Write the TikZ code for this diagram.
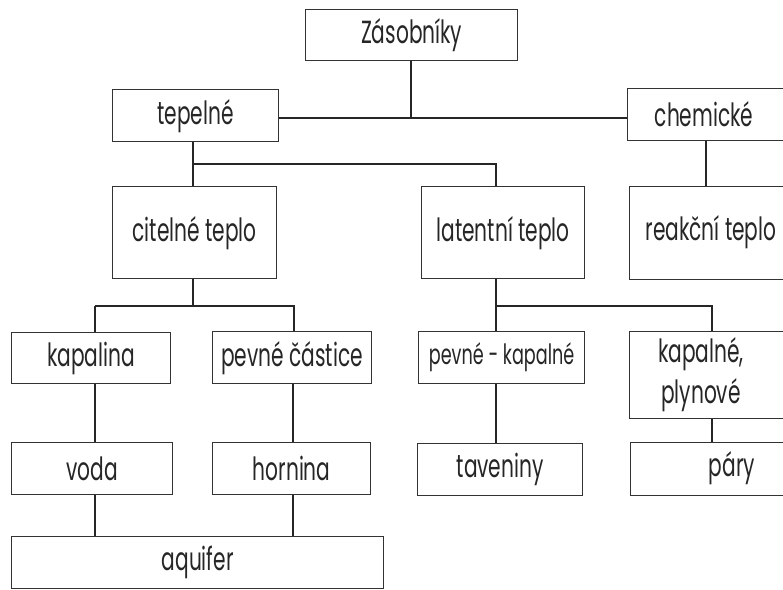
\documentclass[tikz,border=0pt]{standalone}
\usepackage{fontspec}
\setmainfont{Poppins}[FakeStretch=0.63]
\begin{document}
\begin{tikzpicture}[x=1pt,y=-1pt,
  box/.style={draw=black!80,line width=1.3pt,fill=white,inner sep=0pt,anchor=north west},
  txt/.style={font=\fontsize{32}{32}\selectfont,text=black!85,inner sep=0pt,align=center},
  small/.style={font=\fontsize{28}{28}\selectfont},
  link/.style={draw=black!85,line width=2pt}]
\useasboundingbox (0,0) rectangle (783,589);
\clip (0,0) rectangle (783,589);
\newcommand{\bx}[7][]{\node[box,minimum width=#5-#3,minimum height=#6-#4] (#2) at (#3,#4) {};
  \node[txt,#1] (#2t) at (#2.center) {#7};}
\newcommand{\bxr}[7]{\node[box,minimum width=#4-#2,minimum height=#5-#3] (#1) at (#2,#3) {};
  \node[txt] (#1t) at (#6,{(#3+#5)/2}) {#7};}
\coordinate (jA) at (411,118);
\coordinate (jB) at (193,164);
\coordinate (jB2) at (496,164);
\coordinate (jC) at (95,306);
\coordinate (jC2) at (294,306);
\coordinate (jD) at (496,306);
\coordinate (jD2) at (712,306);
\bx{Z}{305}{9}{517}{60}{Zásobníky}
\bx{tep}{112}{89}{278}{141}{tepelné}
\bxr{chem}{627}{88}{800}{140}{704}{chemické}
\bx{cit}{112}{186}{276}{278}{citelné teplo}
\bx{lat}{421}{186}{584}{278}{latentní teplo}
\bxr{rea}{629}{186}{800}{279}{711}{reakční teplo}
\bx{kap}{11}{332}{170}{383}{kapalina}
\bx{pev}{212}{331}{371}{383}{pevné částice}
\bx[small]{pk}{418}{331}{584}{383}{pevné - kapalné}
\bxr{kp}{629}{331}{800}{418}{701}{kapalné,\\[6pt]plynové}
\bx{voda}{11}{442}{172}{494}{voda}
\bx{hor}{212}{442}{370}{494}{hornina}
\bx{tav}{417}{443}{582}{495}{taveniny}
\bxr{par}{630}{442}{800}{495}{732}{páry}
\bx{aq}{11}{536}{383}{588}{aquifer}
% links
\draw[link] (Z.south -| jA) -- (jA);
\draw[link] (tep.east |- jA) -- (chem.west |- jA);
\draw[link] (tep.south -| jB) -- (cit.north -| jB);
\draw[link] (jB) -- (jB2) -- (lat.north -| jB2);
\draw[link] (chem.south -| 706,0) -- (rea.north -| 706,0);
\draw[link] (cit.south -| jB) -- (jB |- jC);
\draw[link] (jC) -- (jC2) -- (pev.north -| jC2);
\draw[link] (jC) -- (kap.north -| jC);
\draw[link] (lat.south -| jD) -- (jD) -- (jD2) -- (kp.north -| jD2);
\draw[link] (jD) -- (pk.north -| jD);
\draw[link] (kap.south -| jC) -- (voda.north -| jC);
\draw[link] (pev.south -| 293,0) -- (hor.north -| 293,0);
\draw[link] (pk.south -| jD) -- (tav.north -| jD);
\draw[link] (kp.south -| jD2) -- (par.north -| jD2);
\draw[link] (voda.south -| jC) -- (aq.north -| jC);
\draw[link] (hor.south -| 293,0) -- (aq.north -| 293,0);
\end{tikzpicture}
\end{document}
